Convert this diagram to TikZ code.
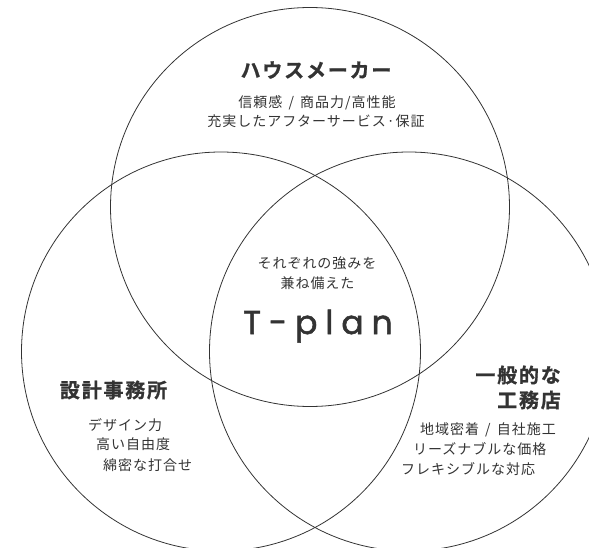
\documentclass[tikz,border=0pt]{standalone}
\usepackage{fontspec}
\usepackage{xcolor}
\usepackage{tikz}

\newfontfamily\jpfont[LetterSpace=7]{Noto Sans CJK JP}
\newfontfamily\jphead[LetterSpace=9,UprightFont=* Bold,FakeBold=1]{Noto Sans CJK JP}
\newfontfamily\tplanfont[LetterSpace=24,FakeBold=1.6]{Poppins}
\definecolor{ink}{HTML}{333333}

\begin{document}
\begin{tikzpicture}[x=1pt,y=-1pt,inner sep=0pt,text=ink]
\useasboundingbox (0,0) rectangle (589,548);
\clip (0,0) rectangle (589,548);

\edef\venndiam{399pt}
\tikzstyle{venn}=[draw=ink,line width=0.8pt,circle,minimum size=\venndiam]
\tikzstyle{heading}=[font=\jphead\fontsize{20}{24}\selectfont]
\tikzstyle{body}=[font=\jpfont\fontsize{14}{19}\selectfont]

%% Draw the three circles
\node [venn] (maker) at (310,207) {};
\node [venn] (office) at (221,351.5) {};
\node [venn] (builder) at (409,351.5) {};

%% House maker
\node [heading] (makertitle) at (316,70) {ハウスメーカー};
\node [body] (makertext1) at (317,103) {信頼感\hspace{2pt} / \hspace{2pt}商品力/高性能};
\node [body] (makertext2) at (316,121.5) {充実したアフターサービス·保証};

%% Middle
\node [body] (strength1) at (317,263.5) {それぞれの強みを};
\node [body] (strength2) at (317.5,283.5) {兼ね備えた};
\node [font=\tplanfont\fontsize{33}{33}\selectfont,anchor=base] (tplan) at (318,334) {T-plan};

%% Design office
\node [heading] (officetitle) at (113.5,390) {設計事務所};
\node [body,anchor=west] (officetext1) at (88,425.5) {デザイン力};
\node [body,anchor=west] (officetext2) at (96,444.5) {高い自由度};
\node [body,anchor=west] (officetext3) at (103,465) {綿密な打合せ};

%% Local builder
\node [heading,anchor=east] (buildertitle1) at (561,375) {一般的な};
\node [heading,anchor=east] (buildertitle2) at (561,400) {工務店};
\node [body,anchor=west] (buildertext1) at (420,430) {地域密着\hspace{2pt} / \hspace{2pt}自社施工};
\node [body,anchor=west] (buildertext2) at (413,449) {リーズナブルな価格};
\node [body,anchor=west] (buildertext3) at (401,469) {フレキシブルな対応};

\end{tikzpicture}
\end{document}
